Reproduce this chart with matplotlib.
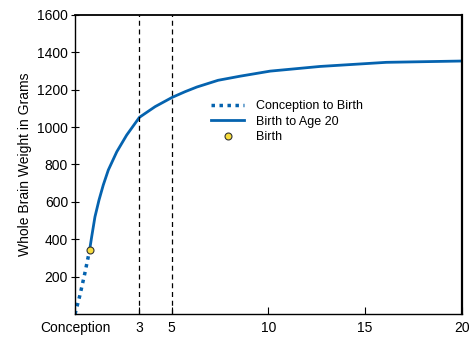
import numpy as np
import matplotlib.pyplot as plt

plt.rcParams['font.family'] = ['Liberation Sans', 'DejaVu Sans']

# Data (x = years since conception, birth at 0.75)
prenatal_x = [0.0, 0.25, 0.5, 0.75]
prenatal_y = [0, 100, 215, 340]

postnatal_x = [0.75, 0.86, 1.03, 1.24, 1.46, 1.72, 2.16, 2.67, 3.33, 4.14,
               5.03, 5.69, 6.3, 7.4, 8.54, 10.09, 12.67, 16.1, 20.0]
postnatal_y = [340, 413, 520, 610, 690, 770, 868, 957, 1052, 1109,
               1159, 1189, 1214, 1250, 1272, 1299, 1324, 1346, 1353]

birth_x, birth_y = 0.75, 340

tick_pos = [0, 3.33, 5, 10, 15, 20]
tick_labels = ['Conception', '3', '5', '10', '15', '20']
marker_lines = [3.33, 5]

blue = '#0563AF'

fig = plt.figure(figsize=(4.69, 3.37), dpi=100)
ax = fig.add_axes([0.16, 0.068, 0.8245, 0.888])

ax.plot(prenatal_x, prenatal_y, color=blue, linewidth=2.5,
        linestyle=(0, (1, 1.3)), label='Conception to Birth')
ax.plot(postnatal_x, postnatal_y, color=blue, linewidth=2,
        label='Birth to Age 20')
ax.plot([birth_x], [birth_y], 'o', markersize=5, markerfacecolor='#F7DC3C',
        markeredgecolor='#333333', markeredgewidth=0.8, label='Birth',
        linestyle='none', zorder=5)

for xv in marker_lines:
    ax.axvline(xv, color='black', linestyle=(0, (4, 3)), linewidth=0.9)

ax.set_xlim(0, 20)
ax.set_ylim(0, 1600)
ax.set_xticks(tick_pos)
ax.set_xticklabels(tick_labels)
ax.set_yticks(np.arange(200, 1601, 200))
ax.set_ylabel('Whole Brain Weight in Grams', fontsize=10)

ax.tick_params(axis='x', direction='in', length=5, labelsize=10, pad=5)
ax.tick_params(axis='y', direction='inout', length=6, labelsize=10, pad=2)
ax.tick_params(top=False, right=False)
for s in ax.spines.values():
    s.set_linewidth(1.0)
ax.spines['right'].set_linewidth(1.6)
ax.spines['top'].set_linewidth(1.3)

ax.legend(loc='upper left', bbox_to_anchor=(0.33, 0.745), frameon=False,
          fontsize=9, handlelength=2.6, labelspacing=0.3, borderpad=0.2,
          handletextpad=1.0)

fig.savefig('out.png', dpi=100)
